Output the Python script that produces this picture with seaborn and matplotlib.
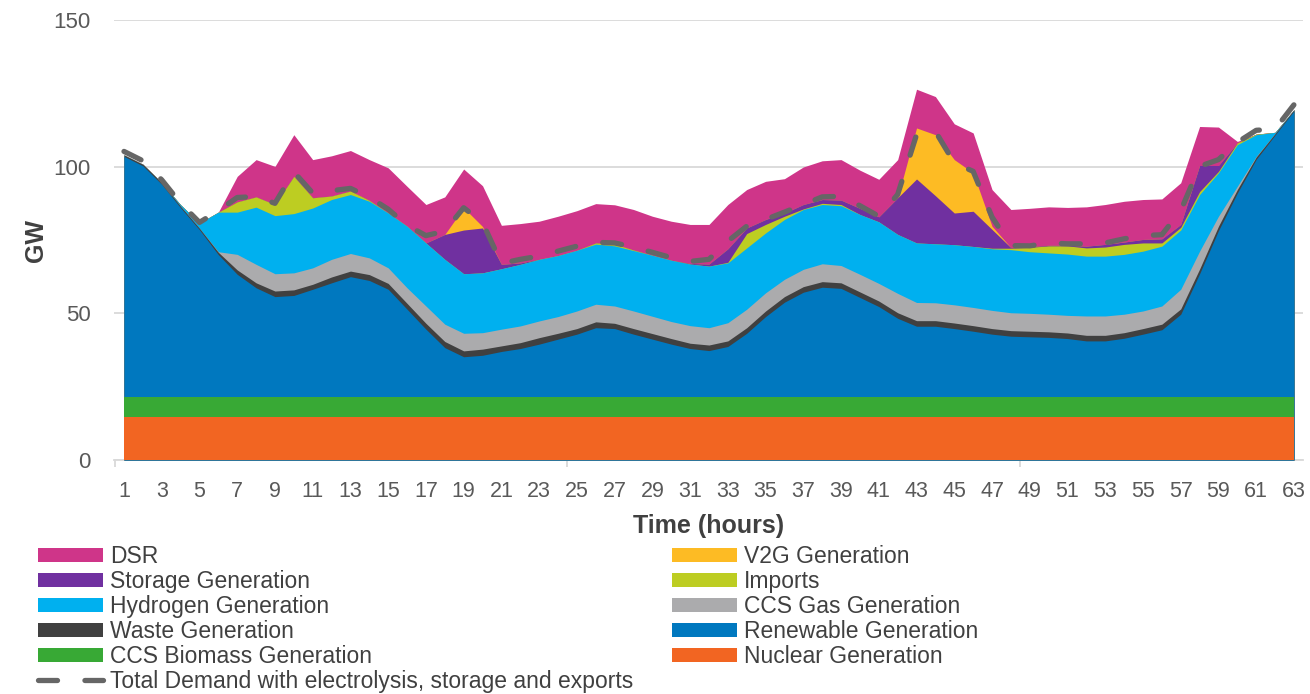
import numpy as np
import pandas as pd
import matplotlib
matplotlib.use("Agg")
import matplotlib.pyplot as plt
import seaborn as sns
from matplotlib.patches import Patch
from matplotlib.lines import Line2D

# ---------------- data (GW) ----------------
hours = list(range(1, 64))
xtick_labels = [str(h) for h in range(1, 64, 2)]

nuclear = [14.6] * 63
ccs_biomass = [6.8] * 63
renewable = [82.1, 78.9, 72.6, 64.6, 57.1, 48.6, 41.9, 37.3, 34.3, 34.7,
             36.8, 39.0, 41.1, 39.8, 36.8, 30.0, 23.2, 16.9, 13.8, 14.3,
             15.6, 16.6, 18.1, 19.8, 21.5, 23.7, 23.4, 21.5, 19.8, 18.1,
             16.6, 15.9, 17.3, 21.8, 27.5, 32.4, 35.8, 37.5, 37.1, 34.0,
             30.9, 26.9, 24.2, 24.2, 23.4, 22.5, 21.5, 20.8, 20.6, 20.4,
             20.0, 19.2, 19.2, 20.1, 21.5, 23.0, 28.3, 42.1, 56.8, 69.6,
             81.1, 89.4, 97.6]
waste = [0.5, 0.5, 0.5, 0.5, 0.5, 0.8, 1.5, 1.7, 1.9, 1.9,
         1.7, 2.0, 1.9, 2.0, 2.0, 2.0, 2.0, 2.1, 2.0, 2.1,
         1.9, 2.0, 2.2, 2.0, 1.9, 2.0, 1.8, 1.9, 1.9, 1.9,
         1.8, 1.9, 1.9, 1.9, 1.9, 1.9, 1.9, 1.9, 1.9, 1.9,
         1.9, 1.9, 1.9, 1.9, 1.9, 1.9, 1.9, 1.9, 1.9, 1.9,
         1.9, 1.9, 1.9, 1.9, 1.9, 1.9, 1.8, 1.6, 1.5, 1.2,
         0.8, 0.5, 0.4]
ccs_gas = [0.0, 0.0, 0.0, 0.0, 0.0, 0.2, 5.3, 6.3, 5.9, 5.8,
           5.6, 6.0, 6.0, 5.7, 5.3, 5.3, 5.9, 5.9, 6.0, 5.6,
           5.7, 5.7, 5.7, 5.7, 6.0, 6.0, 5.9, 6.0, 5.9, 5.8,
           6.0, 5.9, 6.2, 6.3, 6.2, 5.9, 5.9, 6.1, 5.9, 6.0,
           6.0, 6.6, 6.2, 6.1, 6.2, 6.2, 6.2, 6.1, 6.1, 6.0,
           6.0, 6.6, 6.6, 6.3, 6.0, 6.2, 6.7, 6.1, 3.4, 1.1,
           0.2, 0.0, 0.0]
hydrogen = [0.0, 0.0, 0.0, 0.5, 1.8, 13.5, 14.4, 19.5, 19.8, 20.2,
            20.4, 20.4, 20.1, 19.3, 18.7, 21.0, 21.5, 22.1, 20.3, 20.4,
            20.6, 21.0, 21.0, 20.8, 20.7, 20.5, 20.5, 20.6, 20.8, 20.9,
            21.0, 21.0, 20.4, 20.9, 20.4, 20.4, 20.4, 20.2, 20.4, 20.4,
            21.0, 20.1, 20.3, 20.1, 20.5, 20.8, 21.0, 21.5, 21.0, 20.9,
            20.9, 20.4, 20.4, 20.4, 20.4, 20.4, 20.2, 19.3, 14.8, 14.2,
            7.4, 0.4, 0.0]
imports = [0.0, 0.0, 0.0, 0.0, 0.0, 0.0, 3.5, 3.5, 3.8, 12.7,
           3.5, 1.2, 1.2, 0.3, 0.0, 0.0, 0.0, 0.0, 0.0, 0.0,
           0.0, 0.0, 0.0, 0.0, 0.0, 0.4, 0.6, 0.2, 0.0, 0.0,
           0.0, 0.0, 0.2, 4.9, 2.9, 1.1, 0.2, 0.4, 0.4, 0.0,
           0.0, 0.0, 0.0, 0.0, 0.0, 0.0, 0.2, 0.5, 1.5, 2.4,
           2.8, 2.8, 3.1, 3.4, 2.8, 1.1, 0.9, 1.0, 0.5, 0.6,
           0.2, 0.0, 0.0]
storage = [0.0, 0.0, 0.0, 0.0, 0.0, 0.0, 0.0, 0.0, 0.0, 0.0,
           0.0, 0.0, 0.0, 0.0, 0.0, 0.0, 0.0, 8.5, 14.9, 15.3,
           1.5, 0.5, 0.0, 0.0, 0.0, 0.0, 0.0, 0.0, 0.0, 0.0,
           0.2, 0.7, 4.6, 1.9, 1.7, 1.1, 1.5, 1.3, 1.5, 2.1,
           1.7, 12.5, 21.8, 16.4, 10.8, 12.0, 6.4, 0.2, 0.2, 0.2,
           0.2, 0.6, 0.9, 0.8, 1.2, 1.4, 1.0, 8.9, 2.0, 0.0,
           0.0, 0.0, 0.0]
v2g = [0.0, 0.0, 0.0, 0.0, 0.0, 0.0, 0.0, 0.0, 0.0, 0.0,
       0.0, 0.0, 0.0, 0.0, 0.0, 0.0, 0.0, 0.0, 7.6, 0.5,
       0.0, 0.0, 0.0, 0.0, 0.0, 0.0, 0.0, 0.0, 0.0, 0.0,
       0.0, 0.0, 0.0, 0.0, 0.0, 0.0, 0.0, 0.0, 0.0, 0.0,
       0.0, 0.0, 17.4, 20.8, 18.2, 13.1, 1.1, 0.0, 0.0, 0.0,
       0.0, 0.0, 0.0, 0.0, 0.0, 0.0, 0.0, 0.0, 0.0, 0.0,
       0.0, 0.0, 0.0]
dsr = [0.0, 0.0, 0.0, 0.0, 0.0, 0.0, 8.7, 12.7, 13.0, 14.2,
       13.0, 13.7, 13.8, 13.9, 15.4, 13.6, 13.1, 12.8, 13.2, 13.9,
       13.3, 13.4, 13.0, 13.4, 13.5, 13.4, 13.4, 13.8, 13.3, 13.3,
       13.3, 13.5, 15.1, 13.1, 13.0, 11.7, 12.8, 13.2, 13.8, 13.0,
       12.8, 13.0, 13.2, 13.0, 12.2, 13.6, 12.5, 13.0, 13.1, 13.1,
       12.9, 13.4, 13.6, 13.9, 13.6, 13.6, 14.2, 13.3, 13.1, 0.5,
       0.0, 0.0, 0.0]
total_demand = [105.2, 102.0, 95.5, 87.5, 81.0, 85.0, 89.5, 89.8, 87.5, 98.2,
                91.0, 91.8, 92.6, 89.6, 85.5, 80.0, 76.5, 78.0, 86.0, 81.0,
                67.0, 68.4, 69.5, 71.2, 72.9, 74.2, 74.0, 72.6, 70.8, 69.0,
                67.7, 68.4, 74.6, 79.7, 82.0, 84.5, 87.1, 89.7, 89.9, 86.7,
                83.1, 90.5, 110.9, 112.0, 101.3, 98.4, 82.8, 73.1, 73.0, 74.0,
                73.7, 73.7, 74.0, 75.4, 76.5, 76.8, 85.0, 100.1, 102.4, 108.3,
                112.4, 112.8, 121.1]

series_names = ["Nuclear Generation", "CCS Biomass Generation", "Renewable Generation",
                "Waste Generation", "CCS Gas Generation", "Hydrogen Generation",
                "Imports", "Storage Generation", "V2G Generation", "DSR"]
series_vals = [nuclear, ccs_biomass, renewable, waste, ccs_gas, hydrogen,
               imports, storage, v2g, dsr]
series_colors = ["#F26522", "#38A935", "#0078BF", "#404040", "#ABABAD", "#00B0EF",
                 "#BDCD22", "#7030A0", "#FDBB24", "#CF3589"]
demand_label = "Total Demand with electrolysis, storage and exports"
demand_color = "#666666"

# ---------------- plot ----------------
sns.set_theme(style="white")
plt.rcParams["font.family"] = ["Liberation Sans", "DejaVu Sans"]

fig = plt.figure(figsize=(13.1, 6.94), dpi=100)
ax = fig.add_axes([114 / 1310, 1 - 460 / 694, 1189 / 1310, 440 / 694])

x = np.array(hours)
cum = np.cumsum(np.array(series_vals, dtype=float), axis=0)
# paint from the top layer down so neighbouring areas have no seams
for i in reversed(range(len(series_vals))):
    ax.fill_between(x, 0, cum[i], color=series_colors[i], linewidth=0, zorder=2)

df = pd.DataFrame({"hour": hours, "demand": total_demand})
sns.lineplot(data=df, x="hour", y="demand", ax=ax, color=demand_color,
             linewidth=3.8, zorder=5)
dline = ax.lines[-1]
dline.set_linestyle((0, (3.6, 5.2)))
dline.set_dash_capstyle("round")

ax.set_xlim(0.47, 63.48)
ax.set_ylim(0, 150)
ax.set_yticks([0, 50, 100, 150])
ax.yaxis.grid(True, color="#D9D9D9", linewidth=1.3)
ax.xaxis.grid(False)
ax.set_axisbelow(True)
for s in ["left", "right", "top"]:
    ax.spines[s].set_visible(False)
ax.spines["bottom"].set_color("#D9D9D9")
ax.spines["bottom"].set_linewidth(1.3)
ax.spines["bottom"].set_zorder(1)

ax.set_xticks(list(range(1, 64, 2)))
ax.set_xticklabels(xtick_labels)
ax.set_xticks([0.5, 24.5, 48.5], minor=True)
ax.tick_params(axis="x", which="major", length=0, pad=15, labelsize=15.5,
               labelcolor="#595959")
ax.tick_params(axis="x", which="minor", length=5, width=1.3, color="#D9D9D9",
               bottom=True)
ax.tick_params(axis="y", length=0, pad=17, labelsize=16, labelcolor="#595959")

ax.set_xlabel("Time (hours)", fontsize=18, fontweight="bold", color="#404040",
              labelpad=8.5)
ax.set_ylabel("GW", fontsize=18, fontweight="bold", color="#404040", labelpad=4)

# legend (two columns, Excel order)
h = {n: Patch(facecolor=c, edgecolor="none") for n, c in zip(series_names, series_colors)}
dem_handle = Line2D([], [], color=demand_color, linewidth=3.8,
                    linestyle=(0, (3.6, 5.2)), dash_capstyle="round")
order = ["DSR", "Storage Generation", "Hydrogen Generation", "Waste Generation",
         "CCS Biomass Generation", None, "V2G Generation", "Imports",
         "CCS Gas Generation", "Renewable Generation", "Nuclear Generation"]
handles = [dem_handle if n is None else h[n] for n in order]
labels = [demand_label if n is None else n for n in order]
fig.legend(handles, labels, loc="upper left", bbox_to_anchor=(38 / 1310, 1 - 545 / 694),
           ncol=2, frameon=False, fontsize=16.5, handlelength=2.84, handleheight=0.555,
           handletextpad=0.3, labelspacing=0.085, columnspacing=1.7, borderpad=0,
           borderaxespad=0, labelcolor="#404040")

fig.savefig("out.png", dpi=100)
